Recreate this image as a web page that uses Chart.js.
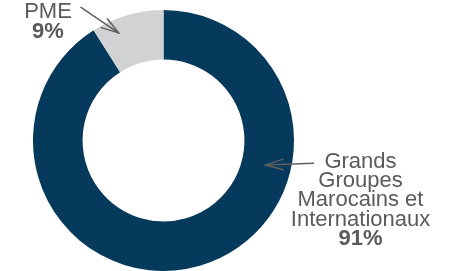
<!DOCTYPE html>
<html>
<head>
<meta charset="utf-8">
<script src="https://cdn.jsdelivr.net/npm/chart.js@4/dist/chart.umd.min.js"></script>
<style>
  html, body { margin: 0; padding: 0; background: #ffffff; }
  #wrap { width: 451px; height: 271px; position: relative; }
</style>
</head>
<body>
<div id="wrap"><canvas id="c" width="451" height="271"></canvas></div>
<script>
const categories = ['Grands Groupes Marocains et Internationaux', 'PME'];
const values = [91, 9];
const valueLabels = ['91%', '9%'];
const labelLines = [['Grands', 'Groupes', 'Marocains et', 'Internationaux'], ['PME']];

const TEXT_COLOR = '#5a5a5a';
const FONT = '"Liberation Sans", Arial, Helvetica, sans-serif';

const labelLayout = [
  { cx: 360.5, y0: 168, lh: 19.2, tail: [313.5, 163.3], af: 0.316, rf: 0.49 },
  { cx: 48, y0: 18, lh: 19.6, tail: [81, 7.3], af: 0.30, rf: 0.72 }
];

const calloutPlugin = {
  id: 'callouts',
  afterDraw(chart) {
    const ctx = chart.ctx;
    const meta = chart.getDatasetMeta(0);
    ctx.save();
    meta.data.forEach((arc, i) => {
      const L = labelLayout[i];
      const p = arc.getProps(['x', 'y', 'startAngle', 'endAngle', 'innerRadius', 'outerRadius'], true);
      const ang = p.startAngle + L.af * (p.endAngle - p.startAngle);
      const rad = p.innerRadius + L.rf * (p.outerRadius - p.innerRadius);
      const tx = p.x + Math.cos(ang) * rad;
      const ty = p.y + Math.sin(ang) * rad;
      const [sx, sy] = L.tail;
      ctx.strokeStyle = '#5f5f5f';
      ctx.lineWidth = 1.5;
      ctx.lineCap = 'round';
      ctx.beginPath();
      ctx.moveTo(sx, sy);
      ctx.lineTo(tx, ty);
      ctx.stroke();
      const dir = Math.atan2(sy - ty, sx - tx);
      const hl = 18, ha = 0.30;
      ctx.beginPath();
      ctx.moveTo(tx + Math.cos(dir + ha) * hl, ty + Math.sin(dir + ha) * hl);
      ctx.lineTo(tx, ty);
      ctx.lineTo(tx + Math.cos(dir - ha) * hl, ty + Math.sin(dir - ha) * hl);
      ctx.stroke();
      ctx.fillStyle = TEXT_COLOR;
      ctx.textAlign = 'center';
      ctx.textBaseline = 'alphabetic';
      ctx.font = '22px ' + FONT;
      const lines = labelLines[i];
      lines.forEach((t, k) => ctx.fillText(t, L.cx, L.y0 + k * L.lh));
      ctx.font = 'bold 22px ' + FONT;
      ctx.fillText(valueLabels[i], L.cx, L.y0 + lines.length * L.lh);
    });
    ctx.restore();
  }
};

new Chart(document.getElementById('c'), {
  type: 'doughnut',
  data: {
    labels: categories,
    datasets: [{
      data: values,
      backgroundColor: ['#053a5c', '#d1d2d4'],
      borderWidth: 0,
      hoverOffset: 0
    }]
  },
  options: {
    responsive: false,
    devicePixelRatio: 1,
    animation: false,
    cutout: '62%',
    layout: { padding: { left: 33, right: 157, top: 10, bottom: 0 } },
    plugins: {
      legend: { display: false },
      tooltip: { enabled: false }
    }
  },
  plugins: [calloutPlugin]
});
</script>
</body>
</html>
